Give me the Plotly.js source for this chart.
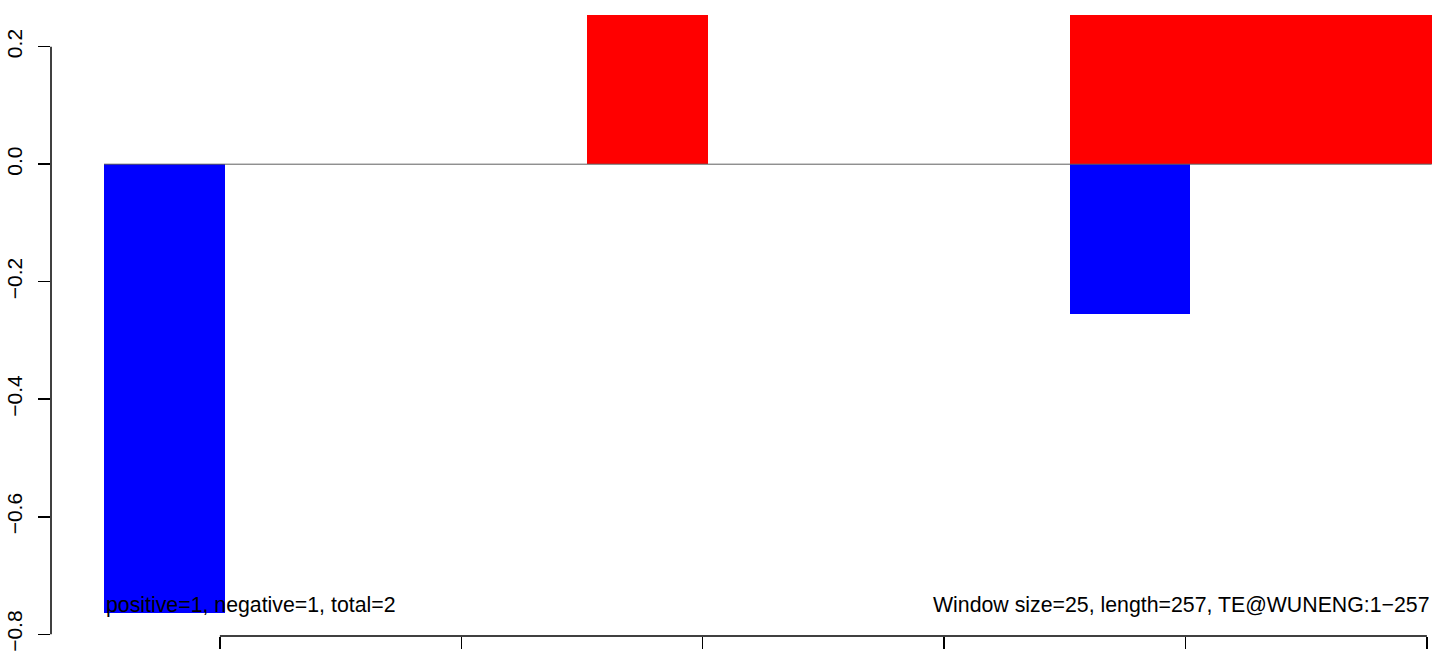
<!DOCTYPE html>
<html>
<head>
<meta charset="utf-8">
<script src="https://cdn.plot.ly/plotly-3.0.1.min.js"></script>
<style>
  html, body { margin: 0; padding: 0; background: #ffffff; }
  #chart { width: 1452px; height: 655px; }
</style>
</head>
<body>
<div id="chart"></div>
<script>
// ---- data ----
const windowSize = 25;
const windowStart = [1, 26, 51, 76, 101, 126, 151, 176, 201, 226, 251];
const positiveValues = [0, 0, 0, 0, 0.2543, 0, 0, 0, 0.2543, 0.2543, 0.2543];
const negativeValues = [-0.7633, 0, 0, 0, 0, 0, 0, 0, -0.2543, 0, 0];
const xTickValues = [25, 75, 125, 175, 225, 275];
const yTickValues = [0.2, 0.0, -0.2, -0.4, -0.6, -0.8];
const yTickLabels = ['0.2', '0.0', '\u22120.2', '\u22120.4', '\u22120.6', '\u22120.8'];
const leftNote = 'positive=1, negative=1, total=2';
const rightNote = 'Window size=25, length=257, TE@WUNENG:1\u2212257';
const noteY = -0.75;

// ---- layout constants ----
const xRange = [-9.98, 280.2];
const yRange = [-0.8029, 0.2794];
const FONT = '"Liberation Sans", Arial, Helvetica, sans-serif';
const lineEnd = windowStart[windowStart.length - 1] + windowSize;

const toPaperX = v => (v - xRange[0]) / (xRange[1] - xRange[0]);
const toPaperY = v => (v - yRange[0]) / (yRange[1] - yRange[0]);

const traces = [
  {
    type: 'scatter', mode: 'lines',
    x: [windowStart[0], lineEnd], y: [0, 0],
    line: { color: '#5f5f5f', width: 1 },
    hoverinfo: 'skip', showlegend: false
  },
  {
    type: 'bar', x: windowStart, y: positiveValues,
    width: windowSize, offset: 0,
    marker: { color: '#ff0000', line: { width: 0 } },
    showlegend: false
  },
  {
    type: 'bar', x: windowStart, y: negativeValues,
    width: windowSize, offset: 0,
    marker: { color: '#0000ff', line: { width: 0 } },
    showlegend: false
  }
];

const layout = {
  width: 1452, height: 655,
  margin: { l: 51, r: 0, t: 0, b: 19, pad: 0 },
  paper_bgcolor: '#ffffff', plot_bgcolor: '#ffffff',
  barmode: 'overlay', bargap: 0,
  showlegend: false,
  font: { family: FONT, size: 21, color: '#000000' },
  xaxis: {
    range: xRange, showgrid: false, zeroline: false, showline: false,
    tickmode: 'array', tickvals: xTickValues, showticklabels: false,
    ticks: 'outside', ticklen: 12, tickwidth: 1.5, tickcolor: '#000000'
  },
  yaxis: {
    range: yRange, showgrid: false, zeroline: false, showline: false,
    tickmode: 'array', tickvals: yTickValues, ticktext: yTickLabels,
    ticks: 'outside', ticklen: 12.5, tickwidth: 1.5, tickcolor: '#000000',
    tickangle: -90, ticklabelstandoff: 7,
    tickfont: { family: FONT, size: 21, color: '#000000' }
  },
  shapes: [
    {
      type: 'line', xref: 'paper', yref: 'paper',
      x0: toPaperX(xTickValues[0]), x1: toPaperX(xTickValues[xTickValues.length - 1]),
      y0: 0, y1: 0,
      line: { color: '#000000', width: 1.5 }
    },
    {
      type: 'line', xref: 'paper', yref: 'paper',
      x0: 0, x1: 0,
      y0: toPaperY(yTickValues[0]), y1: toPaperY(yTickValues[yTickValues.length - 1]),
      line: { color: '#000000', width: 1.5 }
    }
  ],
  annotations: [
    {
      xref: 'x', yref: 'y', x: windowStart[0], y: noteY,
      xanchor: 'left', yanchor: 'middle', showarrow: false,
      text: leftNote, font: { family: FONT, size: 21.3, color: '#000000' }
    },
    {
      xref: 'x', yref: 'y', x: lineEnd, y: noteY,
      xanchor: 'right', yanchor: 'middle', showarrow: false,
      text: rightNote, font: { family: FONT, size: 21.3, color: '#000000' }
    }
  ]
};

Plotly.newPlot('chart', traces, layout, { displayModeBar: false, staticPlot: true });
</script>
</body>
</html>
